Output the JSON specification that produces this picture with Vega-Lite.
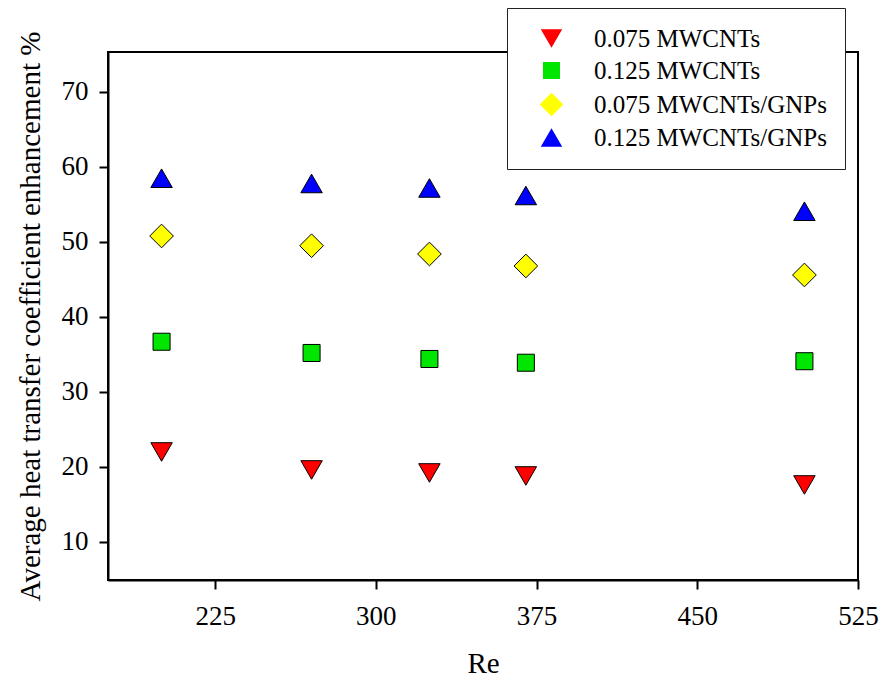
{
  "$schema": "https://vega.github.io/schema/vega-lite/v6.json",
  "width": 750,
  "height": 528,
  "autosize": "none",
  "padding": {"left": 108, "top": 52, "right": 23, "bottom": 103},
  "background": "white",
  "config": {
    "font": "Liberation Serif",
    "view": {"stroke": "black", "strokeWidth": 2},
    "axis": {
      "grid": false,
      "domainColor": "black",
      "domainWidth": 2,
      "tickColor": "black",
      "tickWidth": 2,
      "tickSize": 9,
      "labelFont": "Liberation Serif",
      "labelFontSize": 27,
      "labelColor": "black",
      "titleFont": "Liberation Serif",
      "titleFontSize": 29,
      "titleFontWeight": "normal",
      "titleColor": "black"
    },
    "legend": {
      "fillColor": "white",
      "strokeColor": "#222222",
      "padding": 18,
      "symbolOffset": 14,
      "labelOffset": 30,
      "labelFont": "Liberation Serif",
      "labelFontSize": 25,
      "labelColor": "black",
      "labelLimit": 400,
      "rowPadding": 6,
      "symbolStrokeColor": "black",
      "symbolStrokeWidth": 1,
      "symbolOpacity": 1
    }
  },
  "data": {
    "values": [
      {"Re": 200, "series": "0.075 MWCNTs", "value": 22.0},
      {"Re": 270, "series": "0.075 MWCNTs", "value": 19.6},
      {"Re": 325, "series": "0.075 MWCNTs", "value": 19.2},
      {"Re": 370, "series": "0.075 MWCNTs", "value": 18.8},
      {"Re": 500, "series": "0.075 MWCNTs", "value": 17.6},
      {"Re": 200, "series": "0.125 MWCNTs", "value": 36.7},
      {"Re": 270, "series": "0.125 MWCNTs", "value": 35.2},
      {"Re": 325, "series": "0.125 MWCNTs", "value": 34.4},
      {"Re": 370, "series": "0.125 MWCNTs", "value": 33.9},
      {"Re": 500, "series": "0.125 MWCNTs", "value": 34.1},
      {"Re": 200, "series": "0.075 MWCNTs/GNPs", "value": 50.8},
      {"Re": 270, "series": "0.075 MWCNTs/GNPs", "value": 49.5},
      {"Re": 325, "series": "0.075 MWCNTs/GNPs", "value": 48.4},
      {"Re": 370, "series": "0.075 MWCNTs/GNPs", "value": 46.8},
      {"Re": 500, "series": "0.075 MWCNTs/GNPs", "value": 45.6},
      {"Re": 200, "series": "0.125 MWCNTs/GNPs", "value": 58.5},
      {"Re": 270, "series": "0.125 MWCNTs/GNPs", "value": 57.8},
      {"Re": 325, "series": "0.125 MWCNTs/GNPs", "value": 57.2},
      {"Re": 370, "series": "0.125 MWCNTs/GNPs", "value": 56.2},
      {"Re": 500, "series": "0.125 MWCNTs/GNPs", "value": 54.1}
    ]
  },
  "mark": {"type": "point", "filled": true, "stroke": "black", "strokeWidth": 1, "opacity": 1},
  "encoding": {
    "x": {
      "field": "Re",
      "type": "quantitative",
      "scale": {"domain": [175, 525], "nice": false, "zero": false},
      "axis": {"values": [225, 300, 375, 450, 525], "title": "Re", "labelPadding": 14, "titlePadding": 20, "labelFlush": false}
    },
    "y": {
      "field": "value",
      "type": "quantitative",
      "scale": {"domain": [4.93, 75.33], "nice": false, "zero": false},
      "axis": {"values": [10, 20, 30, 40, 50, 60, 70], "title": "Average heat transfer coefficient enhancement %", "labelPadding": 11, "titlePadding": 16}
    },
    "color": {
      "field": "series",
      "type": "nominal",
      "scale": {
        "domain": ["0.075 MWCNTs", "0.125 MWCNTs", "0.075 MWCNTs/GNPs", "0.125 MWCNTs/GNPs"],
        "range": ["#ff0000", "#00e600", "#ffff00", "#0000ff"]
      },
      "legend": {
        "title": null,
        "orient": "none",
        "legendX": 399,
        "legendY": -44
      }
    },
    "shape": {
      "field": "series",
      "type": "nominal",
      "scale": {
        "domain": ["0.075 MWCNTs", "0.125 MWCNTs", "0.075 MWCNTs/GNPs", "0.125 MWCNTs/GNPs"],
        "range": ["triangle-down", "square", "diamond", "triangle-up"]
      }
    },
    "size": {
      "field": "series",
      "type": "nominal",
      "scale": {
        "type": "ordinal",
        "domain": ["0.075 MWCNTs", "0.125 MWCNTs", "0.075 MWCNTs/GNPs", "0.125 MWCNTs/GNPs"],
        "range": [460, 290, 560, 460]
      }
    }
  }
}
